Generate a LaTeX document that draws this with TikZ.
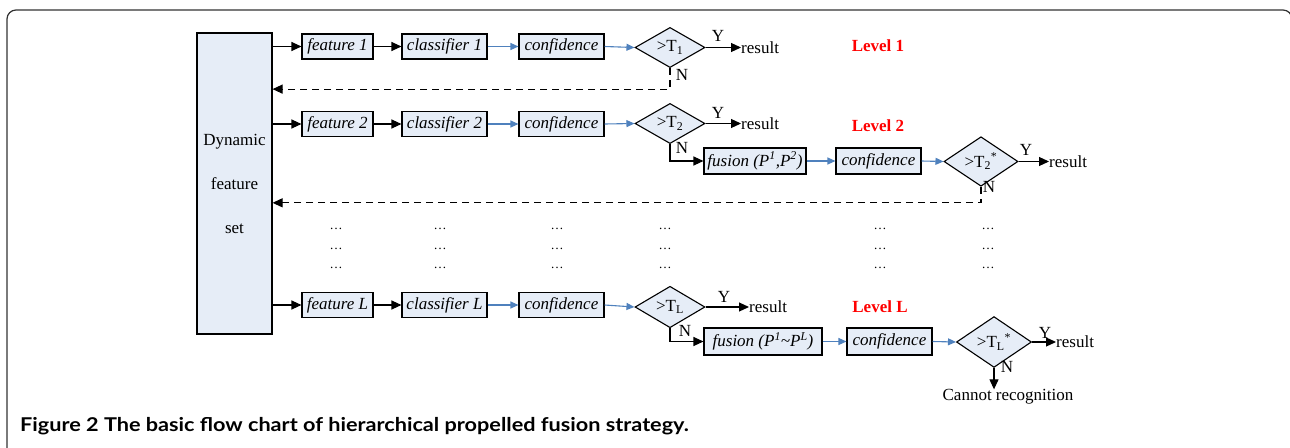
\documentclass[tikz,border=0pt]{standalone}
\usepackage{fontspec}
\setmainfont{Liberation Serif}
\newfontfamily\capfont[FakeStretch=1.14]{Lato}
\usetikzlibrary{shapes.geometric,arrows.meta,calc}
\definecolor{boxfill}{RGB}{230,237,247}
\definecolor{arrblue}{RGB}{79,129,189}
\definecolor{lvlred}{RGB}{255,0,0}
\definecolor{framegray}{RGB}{50,50,50}
\tikzset{
  txt/.style={font=\fontsize{17}{20}\selectfont, inner sep=0pt},
  procbox/.style={txt, draw=black, line width=1.1pt, fill=boxfill, minimum height=25pt, font=\fontsize{17}{20}\selectfont\itshape},
  decide/.style={txt, diamond, draw=black, line width=1.1pt, fill=boxfill, minimum width=70pt, minimum height=29pt},
  blk/.style={line width=1.1pt, draw=black, -{Triangle[length=10pt,width=9pt]}},
  blu/.style={line width=1.1pt, draw=arrblue, -{Triangle[length=8pt,width=7pt]}},
  fb/.style={line width=1.1pt, draw=black, dash pattern=on 7pt off 5pt, -{Triangle[length=10pt,width=9pt]}},
  lvl/.style={txt, text=lvlred, font=\fontsize{17}{20}\selectfont\bfseries},
  dotsty/.style={txt, font=\fontsize{13}{15}\selectfont},
}
\begin{document}
\begin{tikzpicture}[x=1pt,y=-1pt]
\useasboundingbox (0,0) rectangle (1290,447);
\clip (0,0) rectangle (1290,447);
% frame
\draw[line width=1.2pt, framegray, rounded corners=9pt] (7,470) -- (7,10) -- (1292,10) -- (1292,470);

% dynamic feature set
\node[txt, draw=black, line width=1.1pt, fill=boxfill, minimum width=75pt, minimum height=301pt,
      align=center, font=\fontsize{17}{44}\selectfont] (dyn) at (234.5,183.5) {Dynamic\\feature\\set};

% row 1
\node[procbox, minimum width=71pt] (f1) at (337.5,46.5) {feature 1};
\node[procbox, minimum width=85pt] (c1) at (444.5,46.5) {classifier 1};
\node[procbox, minimum width=85pt] (k1) at (561.5,46.5) {confidence};
\node[decide] (d1) at (670,47.5) {>T\textsubscript{1}};
\node[txt, anchor=west] (r1) at (741,47.5) {result};
\node[txt] (y1) at (718,36) {Y};
\node[txt] (n1) at (682,75) {N};
\node[lvl] (l1) at (878,46) {Level 1};

% row 2
\node[procbox, minimum width=71pt] (f2) at (337.5,124) {feature 2};
\node[procbox, minimum width=85pt] (c2) at (444.5,124) {classifier 2};
\node[procbox, minimum width=85pt] (k2) at (561.5,124) {confidence};
\node[decide] (d2) at (670,123.5) {>T\textsubscript{2}};
\node[txt, anchor=west] (r2) at (741,123.5) {result};
\node[txt] (y2) at (718,113) {Y};
\node[txt] (n2) at (682,148) {N};
\node[lvl] (l2) at (878,126) {Level 2};
\node[procbox, minimum width=102pt, minimum height=26pt] (u2) at (755,161) {fusion (P\textsuperscript{1},P\textsuperscript{2})};
\node[procbox, minimum width=85pt, minimum height=26pt] (q2) at (878.5,161) {confidence};
\node[decide, minimum width=74pt, minimum height=31pt] (e2) at (981,161.5) {>T\textsubscript{2}\textsuperscript{*}};
\node[txt, anchor=west] (s2) at (1049,161.5) {result};
\node[txt] (y2s) at (1026,150) {Y};
\node[txt] (n2s) at (989,187) {N};

% dots
\foreach \xx in {336,440,557,665,880,988}{
  \foreach \yy in {229,249,268}{
    \node[dotsty] at (\xx,\yy) {\dots};
  }
}

% row L
\node[procbox, minimum width=71pt] (fL) at (337.5,305) {feature L};
\node[procbox, minimum width=85pt] (cL) at (444.5,305) {classifier L};
\node[procbox, minimum width=85pt] (kL) at (561.5,305) {confidence};
\node[decide, minimum height=28pt] (dL) at (670,307) {>T\textsubscript{L}};
\node[txt, anchor=west] (rL) at (749,307) {result};
\node[txt] (yL) at (724,297) {Y};
\node[txt] (nL) at (685,331) {N};
\node[lvl] (lL) at (880,307) {Level L};
\node[procbox, minimum width=118pt, minimum height=27pt] (uL) at (763,341.5) {fusion (P\textsuperscript{1}\textasciitilde P\textsuperscript{L})};
\node[procbox, minimum width=85pt, minimum height=27pt] (qL) at (889.5,341.5) {confidence};
\node[decide, minimum width=75pt, minimum height=29pt] (eL) at (994,342) {>T\textsubscript{L}\textsuperscript{*}};
\node[txt, anchor=west] (sL) at (1056,342) {result};
\node[txt] (yLs) at (1045,333) {Y};
\node[txt] (nLs) at (1007,367) {N};
\node[txt] (cant) at (1008,397) {Cannot recognition};

% caption
\node[anchor=base west, inner sep=0pt, font=\capfont\bfseries\fontsize{19}{21}\selectfont] (cap) at (20,431)
  {Figure 2 The basic flow chart of hierarchical propelled fusion strategy.};

% connectors row 1
\draw[blk] (dyn.east |- f1.west) -- (f1.west);
\draw[blk] (f1.east) -- (c1.west);
\draw[blu] (c1.east) -- (k1.west);
\draw[blu] (k1.east) -- (d1.west);
\draw[blk] (d1.east) -- (r1.west);
\coordinate (b1) at ($(d1.south)+(0,21)$);
\draw[fb] (d1.south) -- (b1) -- (dyn.east |- b1);

% row 2
\draw[blk] (dyn.east |- f2.west) -- (f2.west);
\draw[blk] (f2.east) -- (c2.west);
\draw[blu] (c2.east) -- (k2.west);
\draw[blu] (k2.east) -- (d2.west);
\draw[blk] (d2.east) -- (r2.west);
\draw[blk] (d2.south) |- (u2.west);
\draw[blu] (u2.east) -- (q2.west);
\draw[blu] (q2.east) -- (e2.west);
\draw[blk] (e2.east) -- (s2.west);
\coordinate (b2) at ($(e2.south)+(0,16)$);
\draw[fb] (e2.south) -- (b2) -- (dyn.east |- b2);

% row L
\draw[blk] (dyn.east |- fL.west) -- (fL.west);
\draw[blk] (fL.east) -- (cL.west);
\draw[blu] (cL.east) -- (kL.west);
\draw[blu] (kL.east) -- (dL.west);
\draw[blk] (dL.east) -- (rL.west);
\draw[blk] (dL.south) |- (uL.west);
\draw[blu] (uL.east) -- (qL.west);
\draw[blu] (qL.east) -- (eL.west);
\draw[blk] (eL.east) -- (sL.west);
\draw[blk] (eL.south) -- (eL.south |- cant.north);
\end{tikzpicture}
\end{document}
